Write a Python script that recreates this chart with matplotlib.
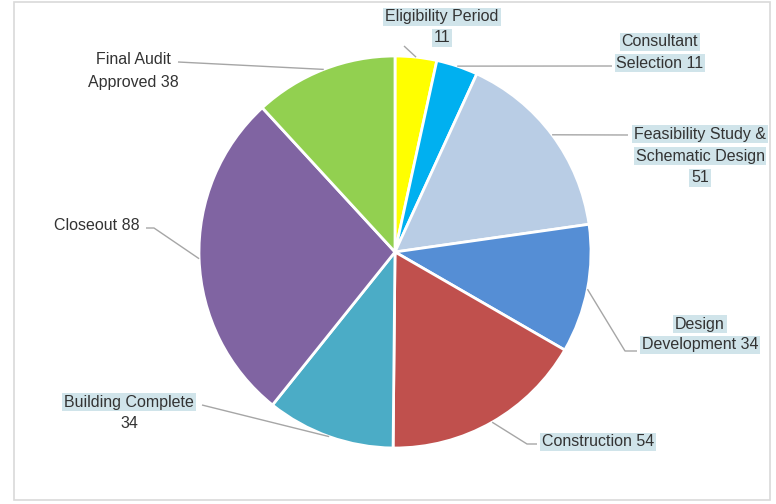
import numpy as np
import matplotlib.pyplot as plt
from matplotlib.patches import Rectangle

# project stages and number of days spent in each
stages = ["Eligibility Period", "Consultant Selection",
          "Feasibility Study & Schematic Design", "Design Development",
          "Construction", "Building Complete", "Closeout", "Final Audit Approved"]
values = [11, 11, 51, 34, 54, 34, 88, 38]
colors = ["#ffff00", "#00b0f0", "#b9cde5", "#558ed5",
          "#c0504d", "#4bacc6", "#8064a2", "#92d050"]

# how each data label is broken into lines ({} gets the value)
label_lines = [
    ["Eligibility Period", "{}"],
    ["Consultant", "Selection {}"],
    ["Feasibility Study &", "Schematic Design", "{}"],
    ["Design", "Development {}"],
    ["Construction {}"],
    ["Building Complete", "{}"],
    ["Closeout {}"],
    ["Final Audit", "Approved {}"],
]
highlight = [[1, 1], [1, 1], [1, 1, 1], [1, 1], [1], [1, 0], [0], [0, 0]]

W, H = 776, 504

# label placement in pixels from the top-left: x centre, y of each line
label_pos = [
    (442, [17, 38]),
    (660, [42, 63]),
    (700, [134, 156, 178]),
    (700, [324, 345]),
    (598, [442]),
    (129, [402, 423]),
    (97, [225]),
    (133, [60, 83]),
]
# elbow points of the leader lines (after the wedge edge point)
leader_pts = [
    [(404, 46)],
    [(612, 66)],
    [(628, 135)],
    [(625, 351), (637, 351)],
    [(527, 444), (537, 444)],
    [(202, 405)],
    [(154, 228), (146, 228)],
    [(178, 62)],
]

fig = plt.figure(figsize=(W / 100, H / 100), dpi=100)
ax = fig.add_axes([0, 0, 1, 1])

cx, cy, r = 395, H - 252, 196
wedges, _ = ax.pie(values, colors=colors, startangle=90, counterclock=False,
                   center=(cx, cy), radius=r,
                   wedgeprops={"edgecolor": "white", "linewidth": 2})
ax.set_xlim(0, W)
ax.set_ylim(0, H)
ax.axis("off")

# chart area border
ax.add_patch(Rectangle((14, H - 500), 756, 498, fill=False,
                       edgecolor="#d9d9d9", linewidth=1.2))

for w, v, lines, hl, (lx, ly), pts in zip(wedges, values, label_lines,
                                          highlight, label_pos, leader_pts):
    mid = np.deg2rad((w.theta1 + w.theta2) / 2)
    ex, ey = cx + r * np.cos(mid), cy + r * np.sin(mid)
    xs = [ex] + [p[0] for p in pts]
    ys = [ey] + [H - p[1] for p in pts]
    ax.plot(xs, ys, color="#a6a6a6", linewidth=1, solid_capstyle="butt")
    for line, y, h in zip(lines, ly, hl):
        box = {"boxstyle": "square,pad=0.12", "facecolor": "#d0e4ea",
               "edgecolor": "none"} if h else None
        ax.text(lx, H - y, line.format(v), ha="center", va="center",
                fontsize=11.5, family="Liberation Sans", color="#333333",
                bbox=box)

fig.savefig("out.png", dpi=100, facecolor="white")
